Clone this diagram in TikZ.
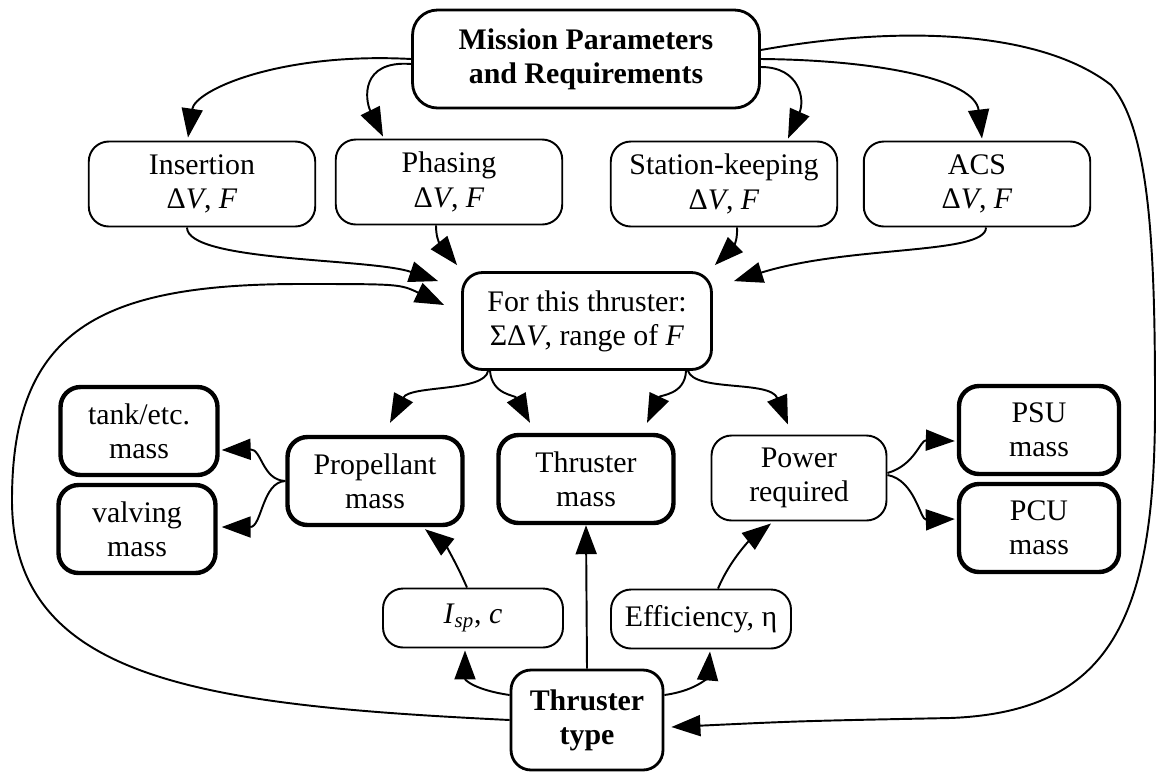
\documentclass[tikz,border=0pt]{standalone}
\usepackage{fontspec}
\setmainfont{Liberation Serif}
\usetikzlibrary{arrows.meta}

\tikzset{
  box/.style={draw,rounded corners=0.4cm,align=center,inner sep=0pt,line width=1.1pt,
    font=\fontsize{17}{19.5}\selectfont},
  midbox/.style={box,line width=1.6pt},
  heavybox/.style={box,line width=2.5pt},
  phasebox/.style={box,minimum width=4.53cm,minimum height=1.7cm},
  massbox/.style={heavybox,minimum width=3.5cm,minimum height=1.76cm},
  sidebox/.style={heavybox,minimum width=3.14cm,minimum height=1.76cm},
  parbox/.style={box,minimum width=3.6cm,minimum height=1.18cm},
  arr/.style={-{Triangle[length=0.58cm,width=0.42cm]},line width=1.1pt}
}

\begin{document}
\begin{tikzpicture}[x=0.02cm,y=-0.02cm]
\useasboundingbox (0,0) rectangle (1156,772);

\node[midbox,rounded corners=0.5cm,minimum width=6.94cm,minimum height=1.96cm,font=\fontsize{17}{19.5}\selectfont\bfseries]
  (mission) at (586,59) {Mission Parameters\\and Requirements};

\node[phasebox] (ins) at (202,184) {Insertion\\Δ\textit{V}, \textit{F}};
\node[phasebox] (pha) at (449,182) {Phasing\\Δ\textit{V}, \textit{F}};
\node[phasebox] (sta) at (724,184) {Station-keeping\\Δ\textit{V}, \textit{F}};
\node[phasebox] (acs) at (977,184) {ACS\\Δ\textit{V}, \textit{F}};

\node[midbox,minimum width=4.98cm,minimum height=1.94cm] (sum) at (587,321)
  {For this thruster:\\ΣΔ\textit{V}, range of \textit{F}};

\node[sidebox] (tank) at (139,431) {tank/etc.\\mass};
\node[sidebox] (valv) at (137,529) {valving\\mass};
\node[massbox] (prop) at (375,481) {Propellant\\mass};
\node[massbox] (tmass) at (586,479) {Thruster\\mass};
\node[box,minimum width=3.5cm,minimum height=1.7cm] (pow) at (799,478) {Power\\required};
\node[sidebox,minimum width=3.2cm] (psu) at (1039,430) {PSU\\mass};
\node[sidebox,minimum width=3.2cm] (pcu) at (1039,528) {PCU\\mass};

\node[parbox] (isp) at (473,618) {\textit{I}\textsubscript{\textit{sp}}, \textit{c}};
\node[parbox] (eff) at (701,619) {Efficiency, η};

\node[midbox,minimum width=3.04cm,minimum height=2cm,font=\fontsize{17}{19.5}\selectfont\bfseries]
  (type) at (587,720) {Thruster\\type};

\draw[arr] (mission.west) .. controls (280,52) and (195,90) .. ([shift={(-14,-3)}]ins.north);
\draw[arr] ([shift={(0,5)}]mission.west) .. controls (360,60) and (365,100) .. ([shift={(-66,-2)}]pha.north);
\draw[arr] ([shift={(0,8)}]mission.east) .. controls (800,67) and (805,100) .. ([shift={(64,-2)}]sta.north);
\draw[arr] (mission.east) .. controls (880,60) and (975,80) .. ([shift={(5,-2)}]acs.north);
\draw[arr] ([shift={(0,-9)}]mission.east) .. controls (900,25) and (1040,30) .. (1111,85)
  .. controls (1150,130) and (1155,250) .. (1155,400)
  .. controls (1156,620) and (1110,712) .. (950,718)
  .. controls (800,721) .. ([shift={(7,7)}]type.east);

\draw[arr] ([shift={(-15,0)}]ins.south) .. controls (187,262) and (370,258) .. ([shift={(-23,10)}]sum.north west);
\draw[arr] ([shift={(-13,0)}]pha.south) .. controls (436,245) and (445,250) .. ([shift={(-4,-6)}]sum.north west);
\draw[arr] ([shift={(13,0)}]sta.south) .. controls (738,248) and (728,252) .. ([shift={(2,-6)}]sum.north east);
\draw[arr] ([shift={(9,0)}]acs.south) .. controls (986,255) and (850,245) .. ([shift={(21,10)}]sum.north east);
\draw[arr] (type.west) .. controls (200,705) and (12,680) .. (12,500)
  .. controls (12,330) and (100,284) .. (300,284)
  .. controls (400,284) .. ([shift={(-17,-16)}]sum.west);

\draw[arr] ([shift={(-99,0)}]sum.south) .. controls (485,392) and (410,385) .. ([shift={(15,-12)}]prop.north);
\draw[arr] ([shift={(-97,0)}]sum.south) .. controls (492,395) and (515,395) .. ([shift={(-56,-10)}]tmass.north);
\draw[arr] ([shift={(99,0)}]sum.south) .. controls (685,395) and (660,395) .. ([shift={(61,-10)}]tmass.north);
\draw[arr] ([shift={(101,0)}]sum.south) .. controls (695,392) and (770,380) .. ([shift={(-11,-10)}]pow.north);

\draw[arr] (prop.west) .. controls (262,480) and (262,449) .. ([shift={(2,19)}]tank.east);
\draw[arr] (prop.west) .. controls (262,482) and (262,527) .. ([shift={(4,-2)}]valv.east);
\draw[arr] ([shift={(0,-5)}]pow.east) .. controls (915,465) and (920,440) .. ([shift={(-2,11)}]psu.west);
\draw[arr] ([shift={(0,-3)}]pow.east) .. controls (915,480) and (920,520) .. ([shift={(-2,-9)}]pcu.west);

\draw[arr] ([shift={(-6,0)}]isp.north) .. controls (455,560) and (445,545) .. ([shift={(50,2)}]prop.south);
\draw[arr] ([shift={(0,-25)}]type.west) .. controls (475,690) and (465,680) .. ([shift={(-8,2)}]isp.south);
\draw[arr] (type.north) -- (tmass.south);
\draw[arr] ([shift={(0,-25)}]type.east) .. controls (700,690) and (708,675) .. ([shift={(9,2)}]eff.south);
\draw[arr] ([shift={(17,0)}]eff.north) .. controls (730,560) and (750,540) .. ([shift={(-28,2)}]pow.south);

\end{tikzpicture}
\end{document}
